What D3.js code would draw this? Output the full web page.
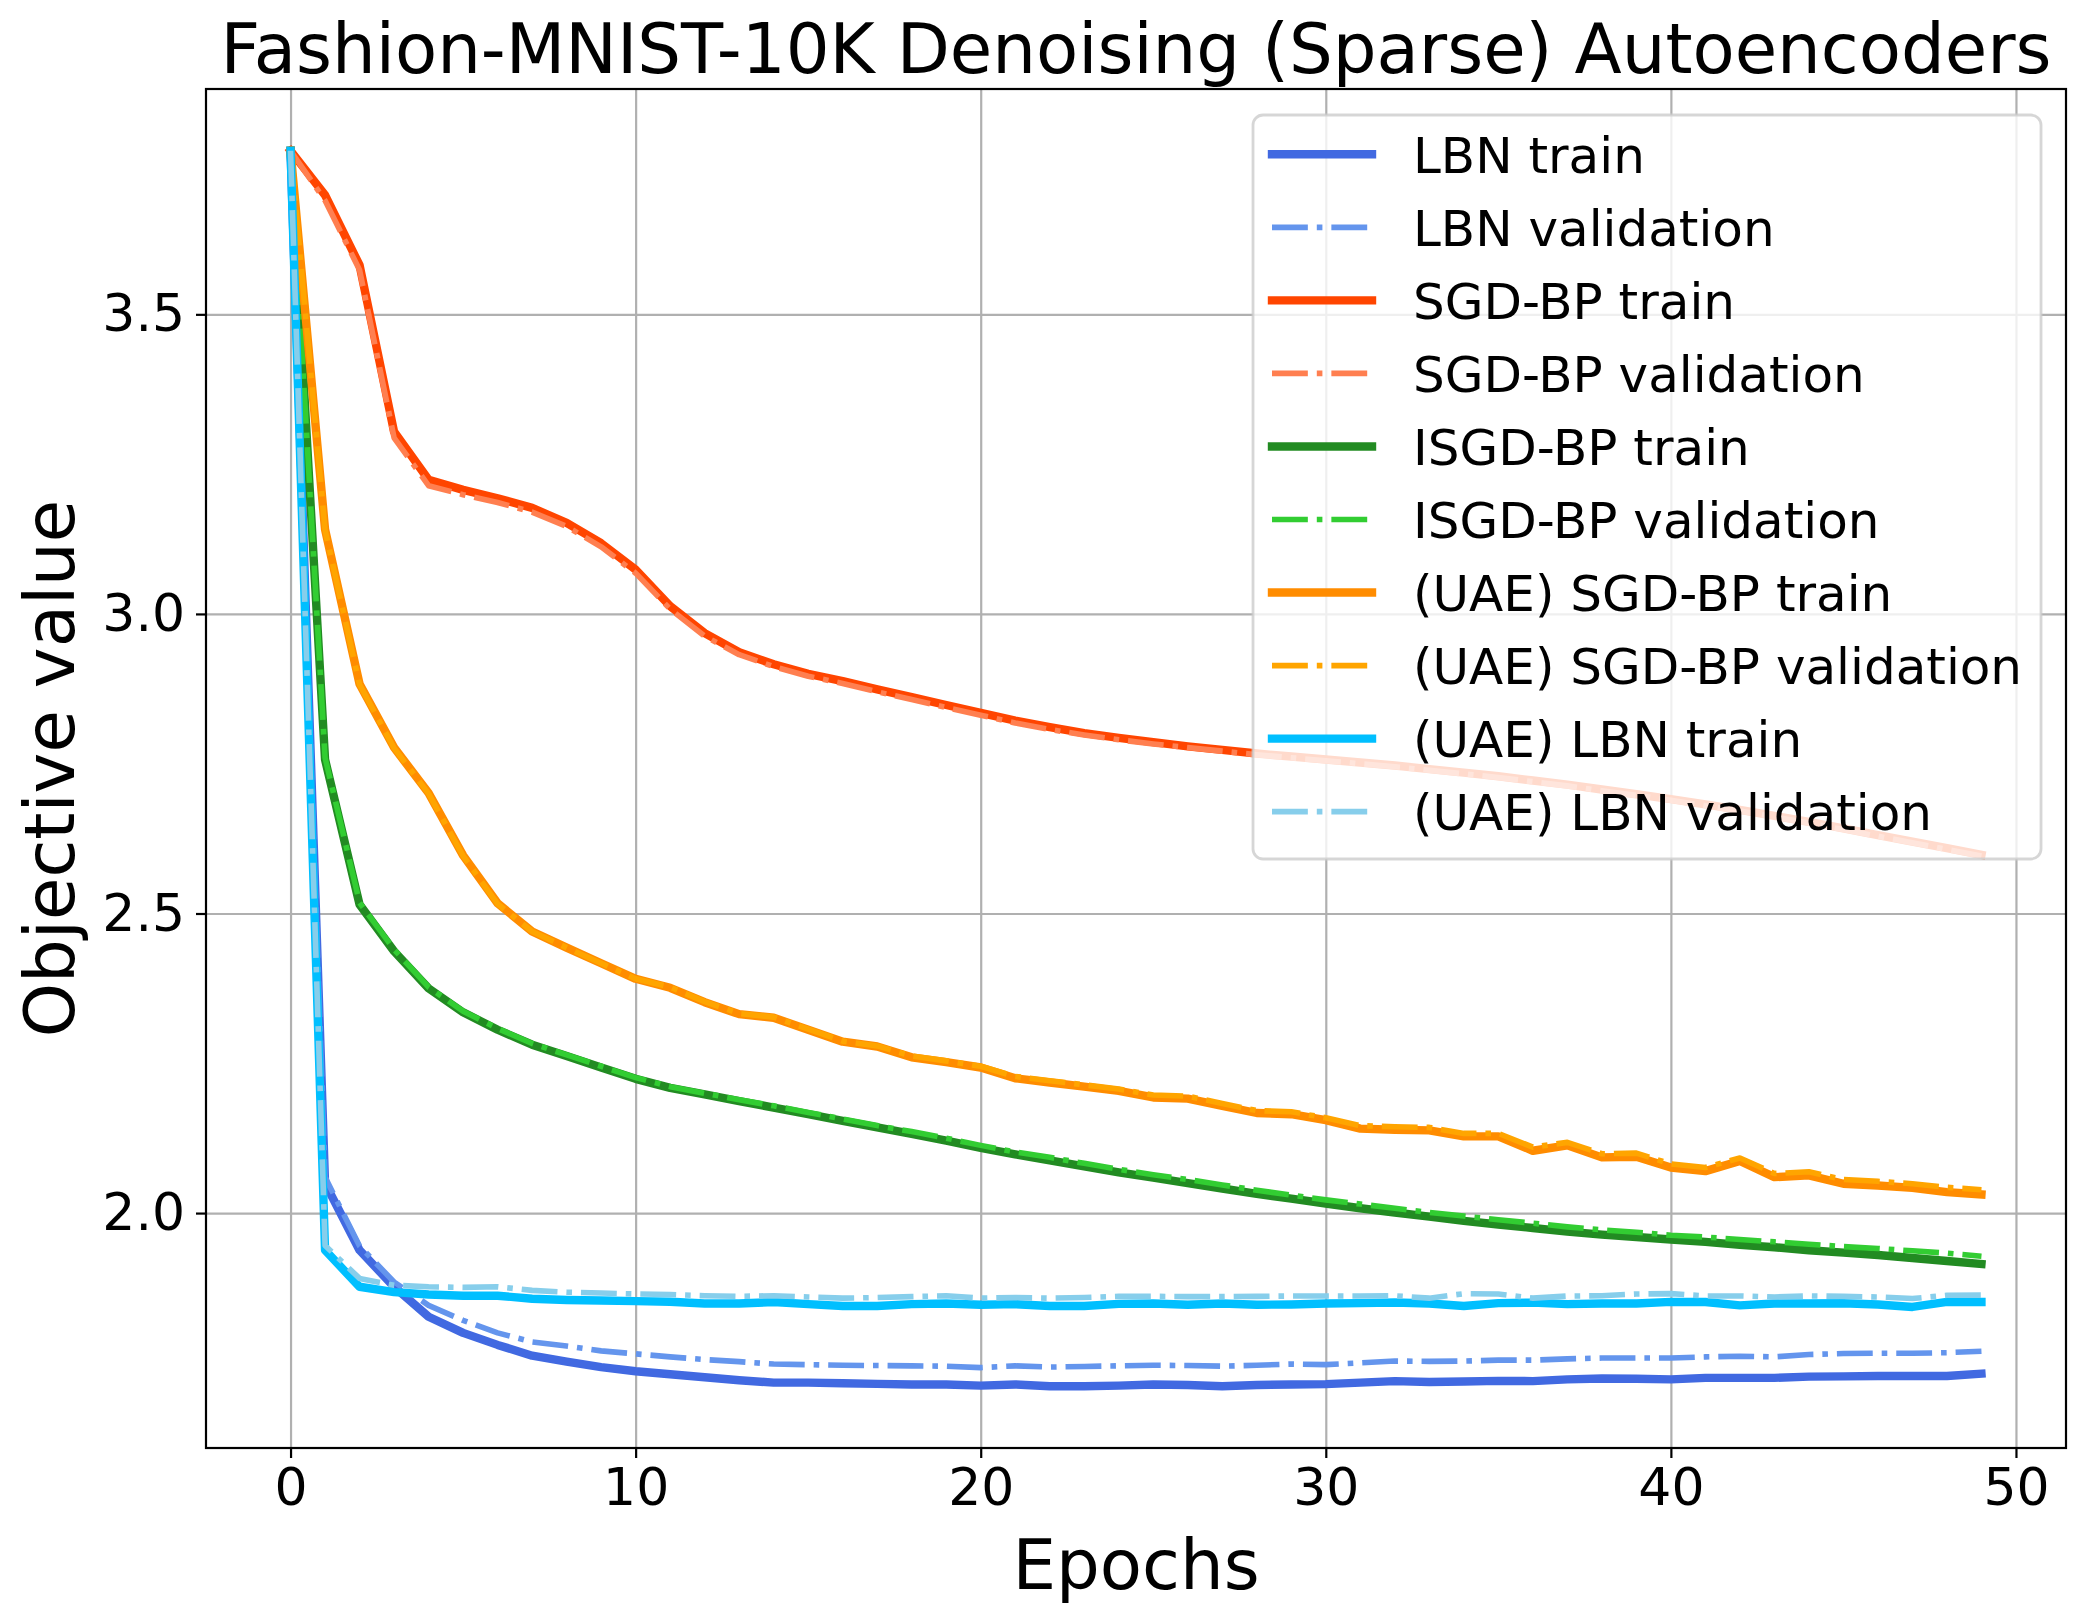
<!DOCTYPE html>
<html>
<head>
<meta charset="utf-8">
<script src="https://cdn.jsdelivr.net/npm/d3@7"></script>
<style>
  body { margin: 0; background: #fff; }
  text { font-family: "DejaVu Sans", sans-serif; }
</style>
</head>
<body>
<svg id="chart"></svg>
<script>
// epochs on the x axis
const epochs = [0,1,2,3,4,5,6,7,8,9,10,11,12,13,14,15,16,17,18,19,20,21,22,23,24,
                25,26,27,28,29,30,31,32,33,34,35,36,37,38,39,40,41,42,43,44,45,46,47,48,49]

const lbnTrain = [3.773,2.05,1.938,1.877,1.827,1.800,1.780,1.762,1.752,1.743,1.736,1.731,1.726,1.721,1.717,1.717,1.716,1.715,1.714,1.714,
                  1.712,1.714,1.711,1.711,1.712,1.714,1.713,1.711,1.713,1.714,1.7145,1.717,1.7195,1.718,1.719,1.720,1.7195,1.7225,1.724,1.7235,
                  1.7225,1.725,1.725,1.725,1.727,1.7275,1.728,1.728,1.728,1.732]
const lbnVal = [3.773,2.06,1.945,1.885,1.846,1.821,1.800,1.785,1.778,1.770,1.765,1.760,1.7555,1.752,1.748,1.747,1.746,1.7455,1.745,1.7445,
                1.742,1.745,1.743,1.744,1.745,1.746,1.7455,1.7445,1.746,1.748,1.747,1.750,1.753,1.7525,1.753,1.7545,1.7545,1.7567,1.758,1.758,
                1.758,1.760,1.761,1.760,1.764,1.7655,1.766,1.766,1.767,1.7695]
const sgdTrain = [3.773,3.699,3.582,3.304,3.224,3.207,3.193,3.177,3.152,3.118,3.074,3.013,2.968,2.936,2.916,2.900,2.888,2.874,2.861,2.848,
                  2.835,2.822,2.811,2.801,2.793,2.786,2.779,2.773,2.767,2.762,2.757,2.752,2.747,2.741,2.735,2.729,2.722,2.715,2.707,2.699,
                  2.691,2.682,2.673,2.663,2.653,2.642,2.631,2.620,2.609,2.598]
const sgdVal = [3.773,3.690,3.574,3.294,3.214,3.199,3.186,3.170,3.146,3.112,3.068,3.008,2.963,2.932,2.912,2.896,2.884,2.870,2.857,2.844,
                2.831,2.818,2.807,2.798,2.790,2.783,2.777,2.771,2.765,2.760,2.755,2.750,2.745,2.739,2.733,2.727,2.720,2.713,2.705,2.697,
                2.689,2.680,2.671,2.661,2.651,2.640,2.629,2.618,2.607,2.596]
const isgdTrain = [3.773,2.757,2.515,2.437,2.375,2.335,2.306,2.281,2.262,2.243,2.224,2.209,2.198,2.187,2.176,2.165,2.154,2.143,2.132,2.121,
                   2.109,2.098,2.088,2.078,2.068,2.059,2.050,2.041,2.032,2.024,2.016,2.008,2.001,1.994,1.987,1.981,1.975,1.969,1.964,1.960,
                   1.956,1.952,1.947,1.943,1.938,1.934,1.930,1.925,1.920,1.915]
const isgdVal = [3.773,2.760,2.518,2.440,2.377,2.337,2.308,2.283,2.264,2.245,2.226,2.211,2.200,2.189,2.179,2.168,2.157,2.146,2.136,2.125,
                 2.113,2.102,2.093,2.083,2.073,2.064,2.056,2.047,2.038,2.030,2.022,2.015,2.008,2.001,1.995,1.989,1.983,1.977,1.972,1.968,
                 1.963,1.960,1.956,1.952,1.948,1.944,1.941,1.937,1.933,1.928]
const uaeSgdTrain = [3.773,3.141,2.883,2.777,2.701,2.597,2.517,2.470,2.443,2.417,2.391,2.376,2.352,2.332,2.326,2.306,2.286,2.278,2.260,2.252,
                     2.243,2.225,2.218,2.211,2.204,2.193,2.191,2.179,2.167,2.165,2.155,2.141,2.139,2.138,2.128,2.128,2.104,2.113,2.093,2.094,
                     2.076,2.070,2.087,2.060,2.063,2.049,2.046,2.042,2.035,2.031]
const uaeSgdVal = [3.773,3.140,2.882,2.776,2.700,2.596,2.516,2.470,2.443,2.417,2.391,2.377,2.353,2.333,2.327,2.307,2.287,2.279,2.262,2.254,
                   2.245,2.228,2.221,2.214,2.207,2.197,2.195,2.183,2.171,2.169,2.159,2.146,2.144,2.143,2.133,2.133,2.110,2.118,2.099,2.100,
                   2.082,2.076,2.092,2.066,2.069,2.056,2.053,2.049,2.043,2.039]
const uaeLbnTrain = [3.773,1.938,1.877,1.868,1.864,1.862,1.862,1.857,1.855,1.854,1.853,1.852,1.849,1.849,1.8515,1.848,1.845,1.845,1.848,1.849,
                     1.847,1.848,1.845,1.845,1.8485,1.849,1.847,1.849,1.847,1.8475,1.849,1.8497,1.8507,1.849,1.845,1.8497,1.8505,1.848,1.849,1.849,
                     1.8517,1.8515,1.846,1.849,1.849,1.8495,1.8473,1.8433,1.8517,1.8517]
const uaeLbnVal = [3.773,1.946,1.891,1.8795,1.877,1.876,1.877,1.871,1.868,1.8665,1.865,1.864,1.862,1.861,1.862,1.860,1.858,1.859,1.8605,1.862,
                   1.858,1.859,1.858,1.859,1.861,1.861,1.8605,1.8605,1.861,1.8615,1.8615,1.8615,1.862,1.858,1.8655,1.865,1.858,1.8615,1.862,1.865,
                   1.8655,1.8617,1.8617,1.860,1.8617,1.861,1.860,1.8573,1.8628,1.863]

const labels = ["LBN train", "LBN validation", "SGD-BP train", "SGD-BP validation",
                "ISGD-BP train", "ISGD-BP validation", "(UAE) SGD-BP train",
                "(UAE) SGD-BP validation", "(UAE) LBN train", "(UAE) LBN validation"]
const colors = ["royalblue", "cornflowerblue", "orangered", "coral", "forestgreen",
                "limegreen", "darkorange", "orange", "deepskyblue", "skyblue"]
const xTicks = [0, 10, 20, 30, 40, 50]
const yTicks = [2.0, 2.5, 3.0, 3.5]

const series = [lbnTrain, lbnVal, sgdTrain, sgdVal, isgdTrain, isgdVal,
                uaeSgdTrain, uaeSgdVal, uaeLbnTrain, uaeLbnVal]
  .map((values, i) => ({name: labels[i], color: colors[i], values: values, dashed: i % 2 === 1}))

const width = 2085, height = 1620
const margin = {top: 89, right: 19, bottom: 172, left: 206},
      bodyWidth = width - margin.left - margin.right,
      bodyHeight = height - margin.top - margin.bottom

const trainWidth = 8.4, valWidth = 5.6
const dashDot = [6.4, 1.6, 1, 1.6].map(d => d * valWidth).join(",")

const svg = d3.select("#chart")
              .attr("width", width)
              .attr("height", height)

const g = svg.append("g")
             .attr("transform", `translate(${margin.left},${margin.top})`)

// matplotlib style 5% padding around the data
const xMin = d3.min(epochs), xMax = d3.max(epochs)
const allValues = series.flatMap(s => s.values)
const yMin = d3.min(allValues), yMax = d3.max(allValues)
const xPad = (xMax - xMin) * 0.05, yPad = (yMax - yMin) * 0.05

const x = d3.scaleLinear()
            .domain([xMin - xPad, xMax + xPad])
            .range([0, bodyWidth])
const y = d3.scaleLinear()
            .domain([yMin - yPad, yMax + yPad])
            .range([bodyHeight, 0])

// grid
g.append("g")
 .attr("transform", `translate(0,${bodyHeight})`)
 .call(d3.axisBottom(x).tickValues(xTicks).tickSize(-bodyHeight).tickFormat(""))
 .call(a => a.select(".domain").remove())
 .selectAll("line")
 .attr("stroke", "#b0b0b0")
 .attr("stroke-width", 2.2)

g.append("g")
 .call(d3.axisLeft(y).tickValues(yTicks).tickSize(-bodyWidth).tickFormat(""))
 .call(a => a.select(".domain").remove())
 .selectAll("line")
 .attr("stroke", "#b0b0b0")
 .attr("stroke-width", 2.2)

// lines
const line = d3.line()
               .x((d, i) => x(epochs[i]))
               .y(d => y(d))

g.append("g")
 .selectAll("path")
 .data(series)
 .join("path")
 .attr("d", d => line(d.values))
 .attr("fill", "none")
 .attr("stroke", d => d.color)
 .attr("stroke-width", d => d.dashed ? valWidth : trainWidth)
 .attr("stroke-dasharray", d => d.dashed ? dashDot : null)
 .attr("stroke-linecap", d => d.dashed ? "butt" : "square")
 .attr("stroke-linejoin", "round")

// axes
const xAxis = g.append("g")
               .attr("transform", `translate(0,${bodyHeight})`)
               .call(d3.axisBottom(x).tickValues(xTicks).tickSize(10).tickPadding(10).tickFormat(d3.format("d")))
const yAxis = g.append("g")
               .call(d3.axisLeft(y).tickValues(yTicks).tickSize(10).tickPadding(11).tickFormat(d3.format(".1f")))

for (const a of [xAxis, yAxis]) {
  a.select(".domain").remove()
  a.selectAll("line").attr("stroke", "#000").attr("stroke-width", 2.2)
  a.selectAll("text")
   .attr("fill", "#000")
   .style("font-family", "DejaVu Sans")
   .style("font-size", "52px")
}

g.append("rect")
 .attr("width", bodyWidth)
 .attr("height", bodyHeight)
 .attr("fill", "none")
 .attr("stroke", "#000")
 .attr("stroke-width", 2.2)

// titles
svg.append("text")
   .attr("x", margin.left + bodyWidth / 2)
   .attr("y", 73)
   .attr("text-anchor", "middle")
   .style("font-size", "69px")
   .text("Fashion-MNIST-10K Denoising (Sparse) Autoencoders")

svg.append("text")
   .attr("x", margin.left + bodyWidth / 2)
   .attr("y", 1589)
   .attr("text-anchor", "middle")
   .style("font-size", "69px")
   .text("Epochs")

svg.append("text")
   .attr("transform", `translate(74,${margin.top + bodyHeight / 2}) rotate(-90)`)
   .attr("text-anchor", "middle")
   .style("font-size", "69px")
   .text("Objective value")

// legend
const legend = svg.append("g")
                  .attr("transform", "translate(1253,115)")

legend.append("rect")
      .attr("width", 788)
      .attr("height", 744)
      .attr("rx", 10)
      .attr("fill", "rgba(255,255,255,0.8)")
      .attr("stroke", "rgba(204,204,204,0.8)")
      .attr("stroke-width", 2.8)

const rowStep = 73.04
const rows = legend.selectAll("g.row")
                   .data(series)
                   .join("g")
                   .attr("class", "row")
                   .attr("transform", (d, i) => `translate(0,${39.3 + i * rowStep})`)

rows.append("line")
    .attr("x1", 19)
    .attr("x2", 119)
    .attr("stroke", d => d.color)
    .attr("stroke-width", d => d.dashed ? valWidth : trainWidth)
    .attr("stroke-dasharray", d => d.dashed ? dashDot : null)
    .attr("stroke-linecap", d => d.dashed ? "butt" : "square")

rows.append("text")
    .attr("x", 160)
    .attr("y", 18.4)
    .style("font-size", "50px")
    .text(d => d.name)
</script>
</body>
</html>
